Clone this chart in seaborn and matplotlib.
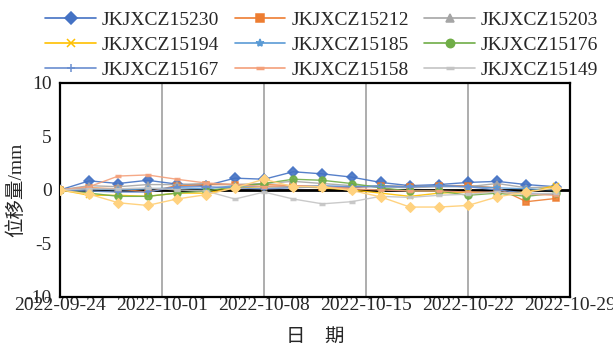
import pandas as pd
import matplotlib.pyplot as plt
import matplotlib.dates as mdates
from matplotlib.lines import Line2D
import seaborn as sns

# survey dates (every 2 days)
dates = pd.date_range('2022-09-24', '2022-10-28', freq='2D')

s15230 = [0, 0.85, 0.6, 0.9, 0.55, 0.4, 1.1, 1.0, 1.7, 1.5, 1.2, 0.7, 0.4, 0.5, 0.7, 0.8, 0.5, 0.3]
s15212 = [0, 0.2, 0.1, -0.2, 0.4, 0.5, 0.5, 0.5, 0.4, 0.3, 0.2, 0.4, 0.3, 0.4, 0.4, 0.2, -1.1, -0.8]
s15203 = [0, 0.4, 0.3, 0.5, 0.5, 0.6, 0.5, 0.6, 0.8, 0.6, 0.4, 0.3, 0.2, 0.3, 0.3, 0.6, 0.2, 0.3]
s15194 = [0, -0.5, -0.5, -0.6, -0.3, -0.3, 0.2, 0.3, 0.3, 0.2, 0.0, -0.3, -0.6, -0.3, -0.2, -0.3, -0.2, 0.4]
s15185 = [0, 0.1, 0.0, 0.1, 0.2, 0.1, 0.4, 0.3, 0.3, 0.4, 0.3, 0.4, 0.3, 0.4, 0.3, 0.2, 0.1, 0.0]
s15176 = [0, -0.3, -0.6, -0.6, -0.3, -0.1, 0.3, 0.6, 1.0, 0.9, 0.6, 0.2, -0.1, -0.1, -0.5, -0.3, -0.6, -0.3]
s15167 = [0, -0.1, -0.2, -0.2, 0.3, 0.3, 0.2, 0.1, 0.2, 0.3, 0.3, 0.3, 0.3, 0.4, 0.3, 0.0, -0.3, -0.4]
s15158 = [0, 0.3, 1.3, 1.4, 1.0, 0.65, 0.5, 0.3, 0.4, 0.3, 0.1, 0.0, -0.1, -0.1, -0.2, -0.2, -0.4, -0.5]
s15149 = [0, 0.1, 0.1, 0.2, 0.0, -0.1, -0.85, -0.2, -0.85, -1.3, -1.1, -0.6, -0.7, -0.5, -0.4, -0.2, -0.4, -0.3]
s_extra = [0, -0.4, -1.2, -1.45, -0.85, -0.45, 0.2, 1.0, 0.3, 0.3, -0.05, -0.65, -1.6, -1.6, -1.45, -0.65, -0.2, 0.2]

names = ['JKJXCZ15230', 'JKJXCZ15212', 'JKJXCZ15203',
         'JKJXCZ15194', 'JKJXCZ15185', 'JKJXCZ15176',
         'JKJXCZ15167', 'JKJXCZ15158', 'JKJXCZ15149']
values = [s15230, s15212, s15203, s15194, s15185, s15176, s15167, s15158, s15149]
colors = ['#4472C4', '#ED7D31', '#A5A5A5', '#FFC000', '#5B9BD5', '#70AD47',
          '#698ED0', '#F4A07A', '#C4C4C4']
markers = ['D', 's', '^', 'x', '*', 'o', '+', '_', '_']

sns.set_style('white')
plt.rcParams['font.family'] = ['Liberation Serif', 'Noto Sans CJK SC']
plt.rcParams['axes.unicode_minus'] = False

fig, ax = plt.subplots(figsize=(6.13, 3.56), dpi=100)
fig.subplots_adjust(left=0.098, right=0.930, bottom=0.166, top=0.767)

# vertical grid + zero line
for d in pd.date_range('2022-10-01', '2022-10-22', freq='7D'):
    ax.axvline(d, color='#A0A0A0', lw=1.2, zorder=0)
ax.axhline(0, color='black', lw=2, zorder=1)

handles = []
for name, vals, c, m in zip(names, values, colors, markers):
    mew = 2.5 if m == '_' else 1.1
    sns.lineplot(x=dates, y=vals, ax=ax, color=c, marker=m, markersize=5,
                 markeredgecolor=c, markeredgewidth=mew, lw=1.0, alpha=0.9, zorder=3)
    handles.append(Line2D([], [], color=c, marker=m, markersize=6, lw=1.2,
                          markeredgecolor=c, markeredgewidth=mew, label=name))

# extra light-yellow series with diamond markers (not in legend)
sns.lineplot(x=dates, y=s_extra, ax=ax, color='#FFD27F', marker='D', markersize=5.5,
             markeredgecolor='#FFD27F', lw=1.0, zorder=4)

ax.set_xlim(pd.Timestamp('2022-09-24'), pd.Timestamp('2022-10-29'))
ax.set_ylim(-10, 10)
ax.set_yticks([-10, -5, 0, 5, 10])
ax.set_xticks(pd.date_range('2022-09-24', '2022-10-29', freq='7D'))
ax.xaxis.set_major_formatter(mdates.DateFormatter('%Y-%m-%d'))
ax.tick_params(axis='x', length=0, labelsize=14, pad=0)
ax.tick_params(axis='y', direction='in', length=4, color='#A0A0A0', labelsize=14, pad=6)

for s in ax.spines.values():
    s.set_color('black')
    s.set_linewidth(1.6)

ax.set_xlabel('日　期', fontsize=14, labelpad=11)
ax.set_ylabel('位移量/mm', fontsize=14, labelpad=0)

# matplotlib fills legend column-wise; reorder so rows read like the reference
order = [0, 3, 6, 1, 4, 7, 2, 5, 8]
fig.legend(handles=[handles[i] for i in order], loc='upper center',
           bbox_to_anchor=(0.525, 1.0), ncol=3, frameon=False, fontsize=14,
           handlelength=2.6, columnspacing=0.8, handletextpad=0.3,
           labelspacing=0.38, borderaxespad=0.2)

plt.savefig('out.png', dpi=100)
